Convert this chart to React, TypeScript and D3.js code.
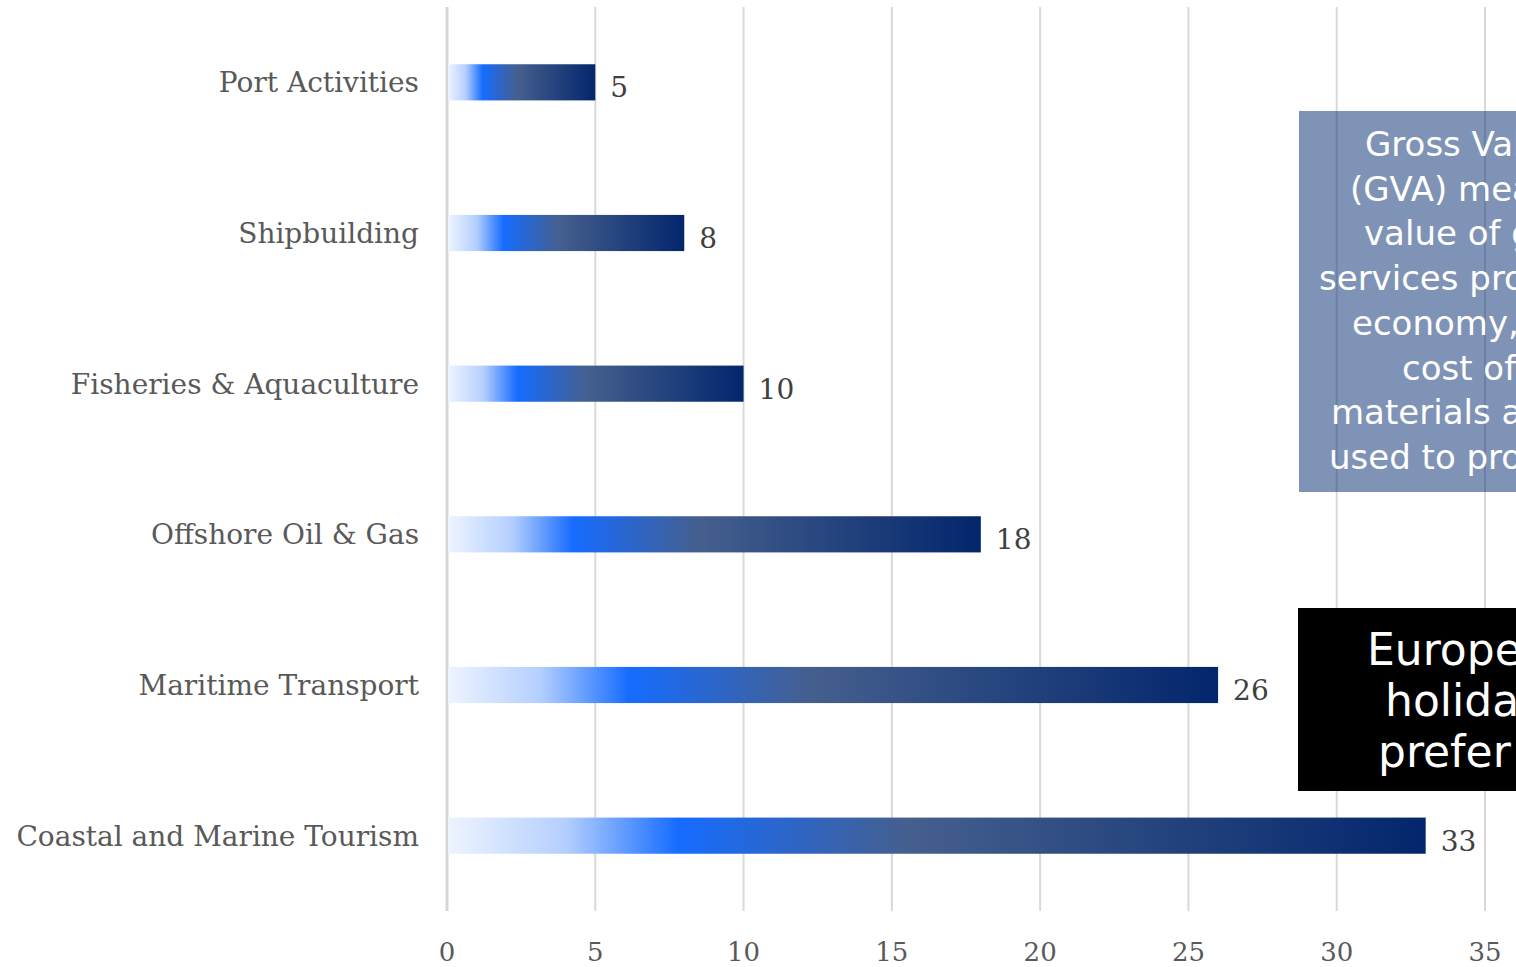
import React from "react";
import * as d3 from "d3";

const categories = [
  "Port Activities",
  "Shipbuilding",
  "Fisheries & Aquaculture",
  "Offshore Oil & Gas",
  "Maritime Transport",
  "Coastal and Marine Tourism",
];
const values = [5, 8, 10, 18, 26, 33];
const ticks = [0, 5, 10, 15, 20, 25, 30, 35];
const gvaLines = [
  "Gross Value Added",
  "(GVA) measures the",
  "value of goods and",
  "services produced in an",
  "economy, minus the",
  "cost of the raw",
  "materials and services",
  "used to produce them.",
];
const tourismLines = ["Europeans on", "holiday mostly", "prefer the sea"];

// left edges of the centred (and cropped) annotation lines
const gvaStarts = [1365, 1350, 1364, 1319, 1352, 1402, 1331, 1329];
const tourismStarts = [1367, 1385, 1378];

const W = 1516;
const H = 967;
const serif = "'DejaVu Serif', serif";
const sans = "'DejaVu Sans', Verdana, sans-serif";

export default function App() {
  const x = d3.scaleLinear().domain([0, 35]).range([447, 1485]);
  const y = d3
    .scaleBand<string>()
    .domain(categories)
    .range([7, 911])
    .paddingInner(0.76)
    .paddingOuter(0.38);

  return (
    <svg
      width={W}
      height={H}
      style={{ position: "absolute", left: 0, top: 0, background: "#fff" }}
    >
      <defs>
        <linearGradient id="barGrad" x1="0" x2="1" y1="0" y2="0">
          <stop offset="0" stopColor="#eef4ff" />
          <stop offset="0.12" stopColor="#b4cffe" />
          <stop offset="0.235" stopColor="#166cff" />
          <stop offset="0.47" stopColor="#455f8e" />
          <stop offset="1" stopColor="#03266c" />
        </linearGradient>
        <clipPath id="clipAll">
          <rect x={0} y={0} width={W} height={H} />
        </clipPath>
      </defs>

      {ticks.map((t) => (
        <line
          key={"g" + t}
          x1={x(t)}
          x2={x(t)}
          y1={7}
          y2={911}
          stroke={t === 0 ? "#d6d6d6" : "#d9d9d9"}
          strokeWidth={t === 0 ? 3 : 2}
        />
      ))}

      {ticks.map((t) => (
        <text
          key={"t" + t}
          x={x(t)}
          y={961}
          textAnchor="middle"
          fontFamily={serif}
          fontSize={26}
          fill="#595959"
        >
          {t}
        </text>
      ))}

      {categories.map((c, i) => {
        const yy = y(c)!;
        const bw = y.bandwidth();
        const cy = yy + bw / 2;
        return (
          <g key={c}>
            <rect
              x={x(0) + 1}
              y={yy}
              width={x(values[i]) - x(0) - 1}
              height={bw}
              fill="url(#barGrad)"
            />
            <text
              x={x(values[i]) + 15}
              y={cy + 15}
              fontFamily={serif}
              fontSize={28}
              fill="#404040"
            >
              {values[i]}
            </text>
            <text
              x={419}
              y={cy + 10}
              textAnchor="end"
              fontFamily={serif}
              fontSize={28}
              fill="#595959"
            >
              {c}
            </text>
          </g>
        );
      })}

      <g clipPath="url(#clipAll)">
        <rect x={1299} y={111} width={520} height={381} fill="#00286e" fillOpacity={0.5} />
        {gvaLines.map((l, i) => (
          <text
            key={l}
            x={gvaStarts[i]}
            y={156 + i * 44.7}
            fontFamily={sans}
            fontSize={34}
            fill="#ffffff"
          >
            {l}
          </text>
        ))}
        <rect x={1298} y={608} width={520} height={183} fill="#000000" />
        {tourismLines.map((l, i) => (
          <text
            key={l}
            x={tourismStarts[i]}
            y={665 + i * 51}
            fontFamily={sans}
            fontSize={44}
            fill="#ffffff"
          >
            {l}
          </text>
        ))}
      </g>
    </svg>
  );
}
